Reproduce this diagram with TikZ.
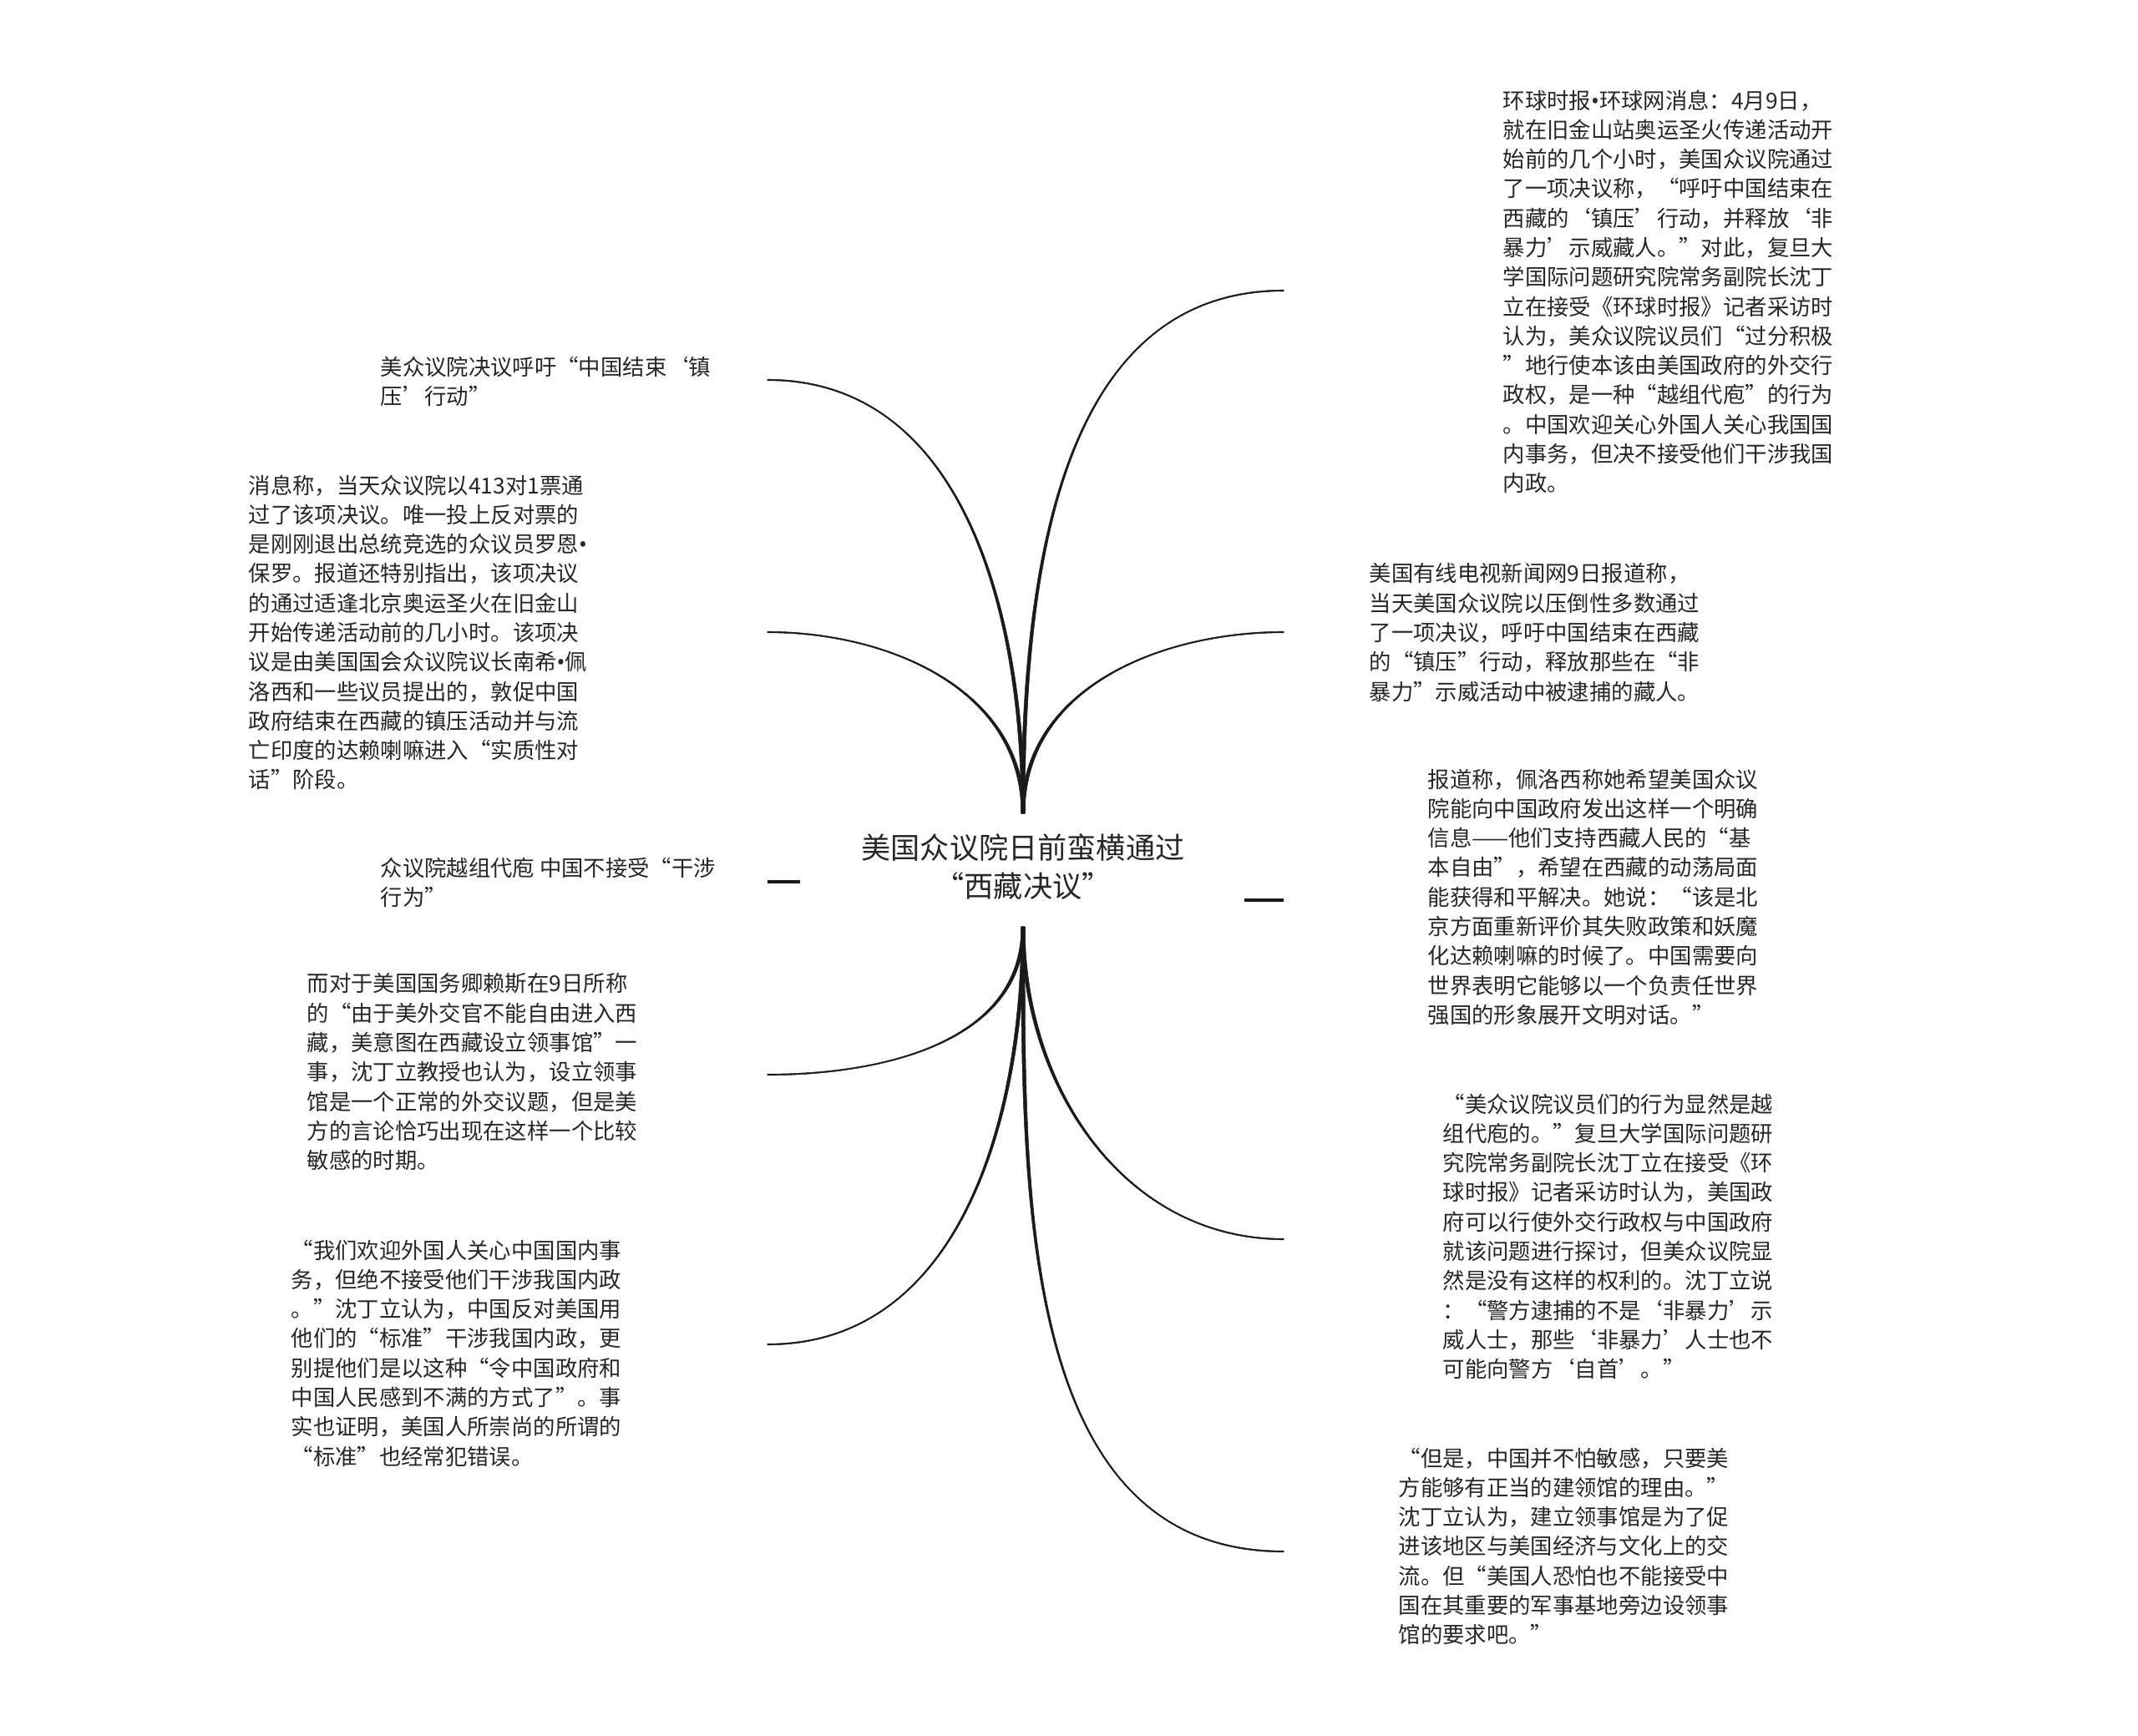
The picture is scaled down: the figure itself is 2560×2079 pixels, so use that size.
\documentclass[tikz,border=0pt]{standalone}
\usepackage{fontspec}
\setmainfont{Noto Sans CJK SC}
\newfontfamily\latinsf{Noto Sans}
\usetikzlibrary{positioning,calc}
\definecolor{ink}{HTML}{1A1A1A}
\definecolor{txt}{HTML}{262626}
\newcommand\dotsep{{\latinsf •}}
\tikzset{
  hubtxt/.style ={font=\fontsize{10}{13}\selectfont,align=center,inner sep=0pt,text=txt},
  leaf/.style   ={font=\fontsize{7.5}{10.04}\selectfont,align=left,inner sep=0pt,anchor=north west,text=txt},
  branch/.style ={fill=ink,draw=ink,line width=.15pt},
  stub/.style   ={line width=.9pt,draw=ink},
}

\begin{document}
\begin{tikzpicture}[x=0.1mm,y=-0.1mm]
\useasboundingbox (0,0) rectangle (2560,2079);
% ===== hub =====
\node[hubtxt] (hub) at (1225,1038) {美国众议院日前蛮横通过\\“西藏决议”};
\coordinate (hubN) at (1225,974);
\coordinate (hubS) at (1225,1110);

% ===== right side =====
\node[leaf] (r1) at (1799,107) {环球时报\dotsep 环球网消息：4月9日，\\就在旧金山站奥运圣火传递活动开\\始前的几个小时，美国众议院通过\\了一项决议称，“呼吁中国结束在\\西藏的‘镇压’行动，并释放‘非\\暴力’示威藏人。”对此，复旦大\\学国际问题研究院常务副院长沈丁\\立在接受《环球时报》记者采访时\\认为，美众议院议员们“过分积极\\”地行使本该由美国政府的外交行\\政权，是一种“越组代庖”的行为\\。中国欢迎关心外国人关心我国国\\内事务，但决不接受他们干涉我国\\内政。};
\node[leaf] (r2) at (1639,674) {美国有线电视新闻网9日报道称，\\当天美国众议院以压倒性多数通过\\了一项决议，呼吁中国结束在西藏\\的“镇压”行动，释放那些在“非\\暴力”示威活动中被逮捕的藏人。};
\node[leaf] (r3) at (1709,920) {报道称，佩洛西称她希望美国众议\\院能向中国政府发出这样一个明确\\信息——他们支持西藏人民的“基\\本自由”，希望在西藏的动荡局面\\能获得和平解决。她说：“该是北\\京方面重新评价其失败政策和妖魔\\化达赖喇嘛的时候了。中国需要向\\世界表明它能够以一个负责任世界\\强国的形象展开文明对话。”};
\node[leaf] (r4) at (1727,1309) {“美众议院议员们的行为显然是越\\组代庖的。”复旦大学国际问题研\\究院常务副院长沈丁立在接受《环\\球时报》记者采访时认为，美国政\\府可以行使外交行政权与中国政府\\就该问题进行探讨，但美众议院显\\然是没有这样的权利的。沈丁立说\\：“警方逮捕的不是‘非暴力’示\\威人士，那些‘非暴力’人士也不\\可能向警方‘自首’。”};
\node[leaf] (r5) at (1674,1733) {“但是，中国并不怕敏感，只要美\\方能够有正当的建领馆的理由。”\\沈丁立认为，建立领事馆是为了促\\进该地区与美国经济与文化上的交\\流。但“美国人恐怕也不能接受中\\国在其重要的军事基地旁边设领事\\馆的要求吧。”};

% ===== left side =====
\node[leaf] (l1) at (455,426) {美众议院决议呼吁“中国结束‘镇\\压’行动”};
\node[leaf] (l2) at (297,568) {消息称，当天众议院以413对1票通\\过了该项决议。唯一投上反对票的\\是刚刚退出总统竞选的众议员罗恩\dotsep\\保罗。报道还特别指出，该项决议\\的通过适逢北京奥运圣火在旧金山\\开始传递活动前的几小时。该项决\\议是由美国国会众议院议长南希\dotsep 佩\\洛西和一些议员提出的，敦促中国\\政府结束在西藏的镇压活动并与流\\亡印度的达赖喇嘛进入“实质性对\\话”阶段。};
\node[leaf] (l3) at (455,1026) {众议院越组代庖 中国不接受“干涉\\行为”};
\node[leaf] (l4) at (367,1165) {而对于美国国务卿赖斯在9日所称\\的“由于美外交官不能自由进入西\\藏，美意图在西藏设立领事馆”一\\事，沈丁立教授也认为，设立领事\\馆是一个正常的外交议题，但是美\\方的言论恰巧出现在这样一个比较\\敏感的时期。};
\node[leaf] (l5) at (348,1484) {“我们欢迎外国人关心中国国内事\\务，但绝不接受他们干涉我国内政\\。”沈丁立认为，中国反对美国用\\他们的“标准”干涉我国内政，更\\别提他们是以这种“令中国政府和\\中国人民感到不满的方式了”。事\\实也证明，美国人所崇尚的所谓的\\“标准”也经常犯错误。};

% ===== branch ends =====
\coordinate (e-r1) at (1537,348);
\coordinate (e-r2) at (1537,757);
\coordinate (e-r4) at (1537,1484);
\coordinate (e-r5) at (1537,1858);
\coordinate (e-l1) at (919,455);
\coordinate (e-l2) at (919,757);
\coordinate (e-l4) at (919,1287);
\coordinate (e-l5) at (919,1610);

% ===== tapered branches: start/end/looseness/h-dir/v-dir =====
\def\wa{2.2}\def\wb{0.8}
\foreach \s/\e/\k/\h/\v in {hubN/r1/274/1/-1,hubN/r2/149/1/-1,hubS/r4/191/1/1,hubS/r5/317/1/1,
                            hubN/l1/236/-1/-1,hubN/l2/147/-1/-1,hubS/l4/138/-1/1,hubS/l5/230/-1/1}
  \filldraw[branch] ($(\s)+(\h*\wa,0)$) .. controls ($(\s)+(\h*\wa,\v*\k)$) and ($(e-\e)+(-\h*\k,-\v*\wb)$) .. ($(e-\e)+(0,-\v*\wb)$)
        -- ($(e-\e)+(0,\v*\wb)$) .. controls ($(e-\e)+(-\h*\k,\v*\wb)$) and ($(\s)+(-\h*\wa,\v*\k)$) .. ($(\s)+(-\h*\wa,0)$) -- cycle;

% short stubs next to the hub
\coordinate (s-l3a) at (919,1056); \coordinate (s-l3b) at (958,1056);
\coordinate (s-r3a) at (1490,1078); \coordinate (s-r3b) at (1537,1078);
\draw[stub] (s-l3a) -- (s-l3b);
\draw[stub] (s-r3a) -- (s-r3b);
\end{tikzpicture}
\end{document}
